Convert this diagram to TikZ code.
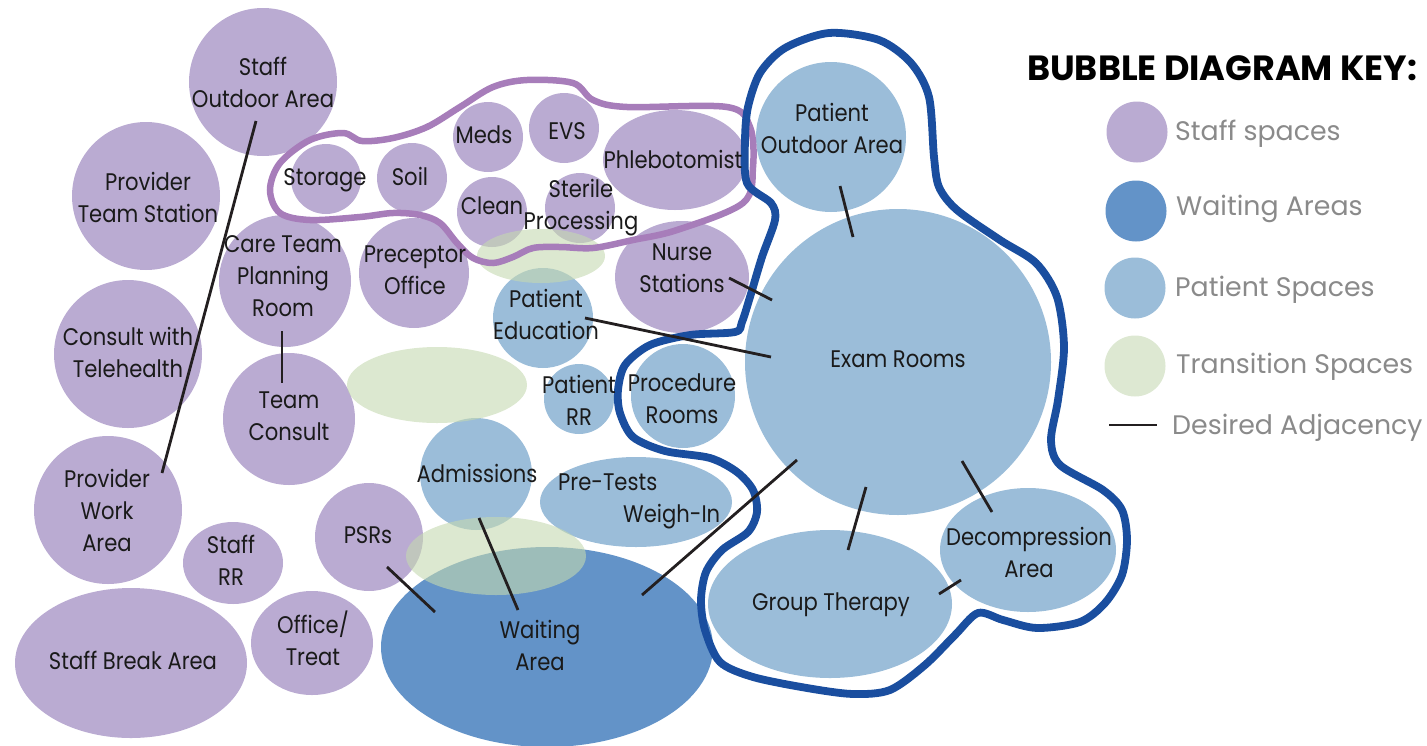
\documentclass[tikz,border=0pt]{standalone}
\usepackage{fontspec}
\setmainfont{Poppins}
\newfontfamily\lblfont[FakeStretch=0.88]{Poppins}
\newfontfamily\keyfont{Poppins}
\definecolor{staffc}{HTML}{BAABD2}
\definecolor{waitc}{HTML}{6393C8}
\definecolor{patc}{HTML}{9BBDD9}
\definecolor{transc}{HTML}{C5D9B0}
\definecolor{transkey}{HTML}{DDE8D2}
\definecolor{blueline}{HTML}{1A4E9F}
\definecolor{purpline}{HTML}{A77DBA}
\definecolor{adjc}{HTML}{231F20}
\definecolor{txtc}{HTML}{1A1A1A}
\definecolor{keygrey}{HTML}{8A8A8A}
\newcommand\mylines[1]{\begin{tabular}[t]{@{}c@{}}#1\end{tabular}}
\begin{document}
\begin{tikzpicture}[x=1pt,y=-1pt,
  staff/.style={fill=staffc},
  wait/.style={fill=waitc},
  pat/.style={fill=patc},
  trans/.style={fill=transc, fill opacity=0.6},
  adj/.style={draw=adjc, line width=2.8pt},
  lbl/.style={anchor=base, inner sep=0pt, text=txtc, font=\lblfont\fontsize{24}{32}\selectfont},
  keylbl/.style={anchor=base west, inner sep=0pt, text=keygrey, font=\keyfont\fontsize{26.8}{30}\selectfont},
  outlineb/.style={draw=blueline, line width=7.8pt},
  outlinep/.style={draw=purpline, line width=6.5pt},
]
\useasboundingbox (0,0) rectangle (1427,745);
\clip (0,0) rectangle (1427,745);

% ---- staff bubbles
\fill[staff] (263,82) circle [radius=74pt];
\fill[staff] (146,196) circle [radius=74pt];
\fill[staff] (285,281) circle [radius=66pt];
\fill[staff] (414,273) circle [radius=55pt];
\fill[staff] (326,179) circle [radius=35pt];
\fill[staff] (412,178) circle [radius=35pt];
\fill[staff] (128,354) circle [radius=74pt];
\fill[staff] (488,137) circle [radius=35pt];
\fill[staff] (564,128) circle [radius=35pt];
\fill[staff] (675,160) ellipse [x radius=72pt, y radius=50pt];
\fill[staff] (492,212) circle [radius=35pt];
\fill[staff] (580,208) circle [radius=35pt];
\fill[staff] (682,277) ellipse [x radius=67pt, y radius=56pt];
\fill[staff] (289,419) circle [radius=66pt];
\fill[staff] (108,510) circle [radius=74pt];
\fill[staff] (233,563) ellipse [x radius=50pt, y radius=41pt];
\fill[staff] (369,537) circle [radius=54pt];
\fill[staff] (131,663) ellipse [x radius=116pt, y radius=75pt];
\fill[staff] (312,643) ellipse [x radius=61pt, y radius=52pt];

% ---- patient bubbles
\fill[pat] (543,318) circle [radius=50pt];
\fill[pat] (579,399) circle [radius=35pt];
\fill[pat] (683,396) circle [radius=52pt];
\fill[pat] (476,474) circle [radius=56pt];
\fill[pat] (636,502) ellipse [x radius=96pt, y radius=45pt];
\fill[pat] (831,137) circle [radius=75pt];
\fill[pat] (898,362) circle [radius=153pt];
\fill[pat] (830,604) ellipse [x radius=122pt, y radius=74pt];
\fill[pat] (1028,550) ellipse [x radius=88pt, y radius=62pt];

% ---- waiting
\fill[wait] (547,647) ellipse [x radius=166pt, y radius=100pt];

% ---- transition
\fill[trans] (541,256) ellipse [x radius=64pt, y radius=27pt];
\fill[trans] (437,385) ellipse [x radius=90pt, y radius=38pt];
\fill[trans] (496,556) ellipse [x radius=90pt, y radius=39pt];

% ---- purple grouping outline
\draw[outlinep] plot[smooth cycle, tension=0.55] coordinates {
 (270,190) (280,163) (310,140) (343,133) (362,141) (393,138) (427,127) (460,107)
 (493,87) (527,80) (573,83) (593,100) (627,107) (727,107) (750,127) (753,167)
 (743,203) (677,230) (633,240) (593,248) (560,247) (533,248) (513,257) (493,263)
 (473,258) (457,243) (440,223) (420,215) (393,213) (360,217) (310,220) (280,213)};

% ---- blue grouping outline
\draw[outlineb] plot[smooth cycle, tension=0.5] coordinates {
 (829,33) (879,40) (911,63) (929,97) (934,157) (939,187) (957,210) (1000,240)
 (1036,263) (1057,297) (1064,347) (1058,400) (1051,440) (1060,465) (1103,490)
 (1122,510) (1127,540) (1122,575) (1105,603) (1080,622) (1037,628) (1003,620)
 (978,613) (955,635) (925,665) (890,690) (853,694) (807,688) (753,677) (720,662)
 (705,630) (701,600) (706,572) (722,550) (748,532) (757,512) (753,490) (737,472)
 (710,458) (665,451) (633,437) (620,413) (618,390) (625,365) (650,345) (690,335)
 (735,332) (742,322) (750,297) (762,257) (775,220) (771,203) (747,183) (745,140)
 (748,107) (760,73) (785,48)};

% ---- adjacency connector ends
\coordinate (soaA) at (256,121);  \coordinate (pwaA) at (162,473);
\coordinate (ctA) at (282,331);   \coordinate (tcA) at (282,383);
\coordinate (psrA) at (387,567);  \coordinate (waA) at (435,612);
\coordinate (admA) at (479,518);  \coordinate (waB) at (518,610);
\coordinate (waC) at (642,595);   \coordinate (exA) at (797,460);
\coordinate (peA) at (585,318);   \coordinate (exB) at (771,357);
\coordinate (nsA) at (729,278);   \coordinate (exC) at (772,300);
\coordinate (poA) at (840,186);   \coordinate (exD) at (853,237);
\coordinate (exE) at (866,487);   \coordinate (gtA) at (848,550);
\coordinate (exF) at (962,461);   \coordinate (daA) at (992,512);
\coordinate (gtB) at (939,594);   \coordinate (daB) at (961,580);
\draw[adj] (soaA) -- (pwaA);
\draw[adj] (ctA) -- (tcA);
\draw[adj] (psrA) -- (waA);
\draw[adj] (admA) -- (waB);
\draw[adj] (waC) -- (exA);
\draw[adj] (peA) -- (exB);
\draw[adj] (nsA) -- (exC);
\draw[adj] (poA) -- (exD);
\draw[adj] (exE) -- (gtA);
\draw[adj] (exF) -- (daA);
\draw[adj] (gtB) -- (daB);

% ---- labels
\node[lbl] (tSOA) at (263,75) {\mylines{Staff\\Outdoor Area}};
\node[lbl] (tPTS) at (148,190) {\mylines{Provider\\Team Station}};
\node[lbl] (tCTP) at (283,252) {\mylines{Care Team\\Planning\\Room}};
\node[lbl] (tPO) at (415,262) {\mylines{Preceptor\\Office}};
\node[lbl] (tSto) at (325,185) {Storage};
\node[lbl] (tSoil) at (410,185) {Soil};
\node[lbl] (tCwT) at (128,345) {\mylines{Consult with\\Telehealth}};
\node[lbl] (tMeds) at (484,143) {Meds};
\node[lbl] (tEVS) at (567,139) {EVS};
\node[lbl] (tPhl) at (673,168) {Phlebotomist};
\node[lbl] (tCln) at (492,214) {Clean};
\node[lbl] (tSP) at (581,197) {\mylines{Sterile\\Processing}};
\node[lbl] (tPE) at (546,307) {\mylines{Patient\\Education}};
\node[lbl] (tNS) at (682,260) {\mylines{Nurse\\Stations}};
\node[lbl] (tTC) at (289,408) {\mylines{Team\\Consult}};
\node[lbl] (tPWA) at (107,487) {\mylines{Provider\\Work\\Area}};
\node[lbl] (tSRR) at (231,553) {\mylines{Staff\\RR}};
\node[lbl] (tPSR) at (368,543) {PSRs};
\node[lbl] (tSBA) at (133,669) {Staff Break Area};
\node[lbl] (tOT) at (313,633) {\mylines{Office/\\Treat}};
\node[lbl] (tAdm) at (477,482) {Admissions};
\node[lbl] (tPRR) at (579,393) {\mylines{Patient\\RR}};
\node[lbl] (tPR) at (682,391) {\mylines{Procedure\\Rooms}};
\node[lbl, anchor=base west] (tPT) at (558,490) {\begin{tabular}[t]{@{}l@{}}Pre-Tests\\\hspace*{65pt}Weigh-In\end{tabular}};
\node[lbl] (tWA) at (540,638) {\mylines{Waiting\\Area}};
\node[lbl] (tPOA) at (832,121) {\mylines{Patient\\Outdoor Area}};
\node[lbl] (tER) at (898,367) {Exam Rooms};
\node[lbl] (tGT) at (831,610) {Group Therapy};
\node[lbl] (tDA) at (1029,545) {\mylines{Decompression\\Area}};

% ---- key
\node[anchor=base west, inner sep=0pt, text=black, font=\keyfont\bfseries\fontsize{35}{40}\selectfont] (ktitle) at (1027,80) {BUBBLE DIAGRAM KEY:};
\fill[staff] (1137,132) circle [radius=30.5pt];
\fill[wait] (1136,211) circle [radius=30.5pt];
\fill[pat] (1135,288) circle [radius=30.5pt];
\fill[fill=transkey] (1135,366) circle [radius=30.5pt];
\coordinate (kl1) at (1109,425); \coordinate (kl2) at (1157,425);
\draw[adj] (kl1) -- (kl2);
\node[keylbl] (k1) at (1175,140) {Staff spaces};
\node[keylbl] (k2) at (1176,215) {Waiting Areas};
\node[keylbl] (k3) at (1175,296) {Patient Spaces};
\node[keylbl] (k4) at (1176,373) {Transition Spaces};
\node[keylbl] (k5) at (1172,434) {Desired Adjacency};
\end{tikzpicture}
\end{document}
